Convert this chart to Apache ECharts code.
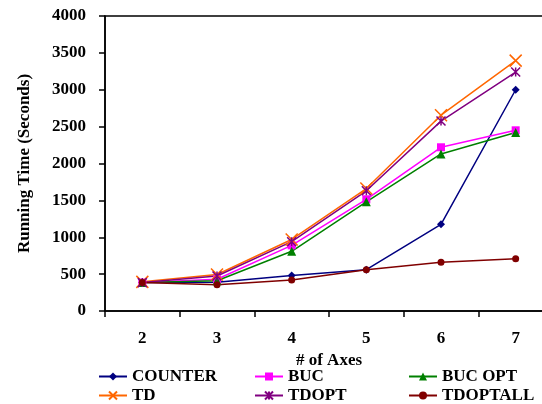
<!DOCTYPE html>
<html>
<head>
<meta charset="utf-8">
<script src="https://cdn.jsdelivr.net/npm/echarts@6/dist/echarts.min.js"></script>
<style>
  html, body { margin: 0; padding: 0; background: #fff; }
  #chart { width: 542px; height: 404px; }
</style>
</head>
<body>
<div id="chart"></div>
<script>
var categories = ["2", "3", "4", "5", "6", "7"];
var yTicks = [0, 500, 1000, 1500, 2000, 2500, 3000, 3500, 4000];

var counter = [385, 390, 480, 560, 1175, 3000];
var buc = [385, 430, 890, 1515, 2220, 2450];
var bucOpt = [385, 410, 810, 1480, 2130, 2420];
var td = [395, 495, 970, 1660, 2655, 3395];
var tdOpt = [385, 475, 940, 1630, 2575, 3240];
var tdOptAll = [385, 355, 420, 560, 662, 707];

var FONT = "'Liberation Serif', 'Times New Roman', serif";
var CROSS = "path://M0,0L10,10M10,0L0,10";
var STAR = "path://M0,0L10,10M10,0L0,10M5,0L5,10";

function makeSeries(name, data, color, symbol, size, stroked) {
  return {
    name: name,
    type: "line",
    data: data,
    symbol: symbol,
    symbolSize: size,
    color: color,
    lineStyle: { color: color, width: 1.5 },
    itemStyle: stroked
      ? { color: "transparent", borderColor: color, borderWidth: 1.5 }
      : { color: color, borderColor: color, borderWidth: 0 },
    emphasis: { disabled: true },
    animation: false,
  };
}

function makeLegend(left, names) {
  return {
    orient: "vertical",
    left: left,
    top: 368,
    itemWidth: 28,
    itemHeight: 10,
    itemGap: 2,
    padding: 0,
    data: names,
    textStyle: {
      fontFamily: FONT,
      fontWeight: "bold",
      fontSize: 17,
      lineHeight: 17,
      color: "#000",
    },
  };
}

var myChart = echarts.init(document.getElementById("chart"), null, { renderer: "canvas" });
myChart.setOption({
  backgroundColor: "#fff",
  animation: false,
  grid: {
    left: 105,
    top: 16,
    width: 448,
    height: 295,
    show: true,
    borderColor: "#000",
    borderWidth: 1.5,
    containLabel: false,
    outerBoundsMode: "none",
  },
  legend: [
    makeLegend(98, ["COUNTER", "TD"]),
    makeLegend(254, ["BUC", "TDOPT"]),
    makeLegend(408, ["BUC OPT", "TDOPTALL"]),
  ],
  xAxis: {
    type: "category",
    data: categories,
    boundaryGap: true,
    name: "# of Axes",
    nameLocation: "middle",
    nameGap: 35,
    nameTextStyle: { fontFamily: FONT, fontWeight: "bold", fontSize: 17, color: "#000" },
    axisLine: { lineStyle: { color: "#000", width: 1.5 } },
    axisTick: { show: true, length: 6, lineStyle: { color: "#000", width: 1.5 } },
    axisLabel: { margin: 19, fontFamily: FONT, fontWeight: "bold", fontSize: 17, color: "#000" },
    splitLine: { show: false },
  },
  yAxis: {
    type: "value",
    min: yTicks[0],
    max: yTicks[yTicks.length - 1],
    interval: yTicks[1] - yTicks[0],
    name: "Running Time (Seconds)",
    nameLocation: "middle",
    nameGap: 72,
    nameTextStyle: { fontFamily: FONT, fontWeight: "bold", fontSize: 17, color: "#000" },
    axisLine: { show: true, lineStyle: { color: "#000", width: 1.5 } },
    axisTick: { show: true, length: 6, lineStyle: { color: "#000", width: 1.5 } },
    axisLabel: {
      margin: 19,
      fontFamily: FONT,
      fontWeight: "bold",
      fontSize: 17,
      color: "#000",
      formatter: function (v) {
        return String(v);
      },
    },
    splitLine: { show: false },
  },
  series: [
    makeSeries("COUNTER", counter, "#000080", "diamond", 8, false),
    makeSeries("BUC", buc, "#FF00FF", "rect", 8, false),
    makeSeries("BUC OPT", bucOpt, "#008000", "triangle", 9, false),
    makeSeries("TD", td, "#FF6600", CROSS, 12, true),
    makeSeries("TDOPT", tdOpt, "#800080", STAR, 9, true),
    makeSeries("TDOPTALL", tdOptAll, "#800000", "circle", 7, false),
  ],
});
</script>
</body>
</html>
